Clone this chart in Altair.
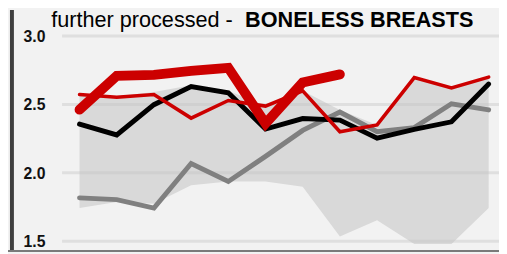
import altair as alt
import pandas as pd

# ---- data ----
idx = list(range(12))
black = [2.356, 2.277, 2.498, 2.63, 2.585, 2.32, 2.397, 2.385, 2.253, 2.318, 2.373, 2.649]
gray = [1.817, 1.804, 1.742, 2.068, 1.937, 2.12, 2.31, 2.445, 2.30, 2.33, 2.505, 2.46]
red_thin = [2.572, 2.553, 2.572, 2.40, 2.529, 2.488, 2.60, 2.30, 2.35, 2.696, 2.62, 2.70]
red_thick = [2.462, 2.709, 2.716, 2.745, 2.768, 2.361, 2.66, 2.72]
band_low = [1.743, 1.786, 1.773, 1.91, 1.937, 1.937, 1.898, 1.534, 1.653, 1.48, 1.48, 1.743]
band_high = [2.565, 2.56, 2.59, 2.64, 2.60, 2.49, 2.60, 2.46, 2.35, 2.70, 2.625, 2.70]
y_ticks = [1.5, 2.0, 2.5, 3.0]
y_labels = ["1.5", "2.0", "2.5", "3.0"]
title_regular = "further processed -"
title_bold = "BONELESS BREASTS"

W, H = 499, 246
FONT = "Liberation Sans"
RED = "#cc0000"

xs = alt.Scale(domain=[0, 11], range=[72.7, 488.5])
ys = alt.Scale(domain=[1.5, 3.0], range=[235, 26.5])

band_df = pd.DataFrame({"i": idx, "lo": band_low, "hi": band_high})
band = alt.Chart(band_df).mark_area(color="#d9d9d9").encode(
    x=alt.X("i:Q", scale=xs, axis=None),
    y=alt.Y("lo:Q", scale=ys, axis=None),
    y2="hi:Q",
)

grid_df = pd.DataFrame({"v": y_ticks, "lab": y_labels})
grid = alt.Chart(grid_df).mark_rule(color="#c4c4c4", opacity=0.4, strokeWidth=3).encode(
    y=alt.Y("v:Q", scale=ys, axis=None),
    x=alt.value(55),
    x2=alt.value(W),
)
labels = alt.Chart(grid_df).mark_text(
    align="right", baseline="middle", font=FONT, fontSize=16, fontWeight="bold",
    color="#111111", dy=1,
).encode(
    y=alt.Y("v:Q", scale=ys, axis=None),
    x=alt.value(38),
    text="lab:N",
)


def line(vals, color, width):
    df = pd.DataFrame({"i": list(range(len(vals))), "v": vals})
    return alt.Chart(df).mark_line(color=color, strokeWidth=width, strokeCap="round").encode(
        x=alt.X("i:Q", scale=xs, axis=None),
        y=alt.Y("v:Q", scale=ys, axis=None),
    )


l_gray = line(gray, "#808080", 5)
l_black = line(black, "#000000", 5)
l_red = line(red_thin, RED, 3.6)
l_thick = line(red_thick, RED, 10)

t_df = pd.DataFrame({"a": [title_regular], "b": [title_bold]})
t1 = alt.Chart(t_df).mark_text(
    align="left", baseline="alphabetic", font=FONT, fontSize=22, color="#000000"
).encode(x=alt.value(44), y=alt.value(17), text="a:N")
t2 = alt.Chart(t_df).mark_text(
    align="right", baseline="alphabetic", font=FONT, fontSize=22, fontWeight="bold", color="#000000"
).encode(x=alt.value(473), y=alt.value(17), text="b:N")

left_bar = alt.Chart(t_df).mark_rule(color="#3f3f3f", strokeWidth=4).encode(
    x=alt.value(4), y=alt.value(0), y2=alt.value(H)
)
bottom_bar = alt.Chart(t_df).mark_rule(color="#7a7a7a", strokeWidth=2).encode(
    x=alt.value(0), x2=alt.value(W), y=alt.value(245)
)

chart = alt.layer(
    band, grid, labels, l_gray, l_black, l_red, l_thick, t1, t2, left_bar, bottom_bar
).properties(
    width=W, height=H, background="#f2f2f2", padding=0,
    autosize=alt.AutoSizeParams(type="none"),
).configure_view(stroke=None)

chart.save("out.html", embed_options={"renderer": "svg", "actions": False})
